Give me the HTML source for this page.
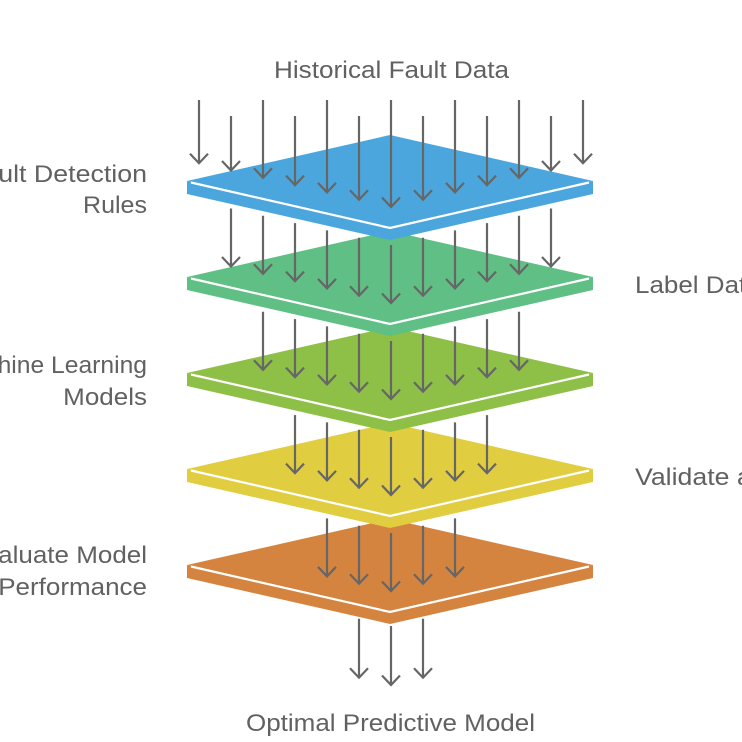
<!DOCTYPE html>
<html>
<head>
<meta charset="utf-8">
<style>
html,body{margin:0;padding:0;background:#fff;}
body{width:742px;height:742px;overflow:hidden;}
svg{display:block;}
text{font-family:"Liberation Sans",Arial,sans-serif;font-size:24px;fill:#616161;}
.ar{fill:none;stroke:#666666;stroke-width:2.2;stroke-linejoin:miter;}
.wl{fill:none;stroke:#fff;stroke-width:2.2;}
</style>
</head>
<body>
<svg width="742" height="742" viewBox="0 0 742 742" xmlns="http://www.w3.org/2000/svg">
<rect width="742" height="742" fill="#fff"/>

<!-- Orange slab -->
<polygon points="187,565 390,611 593,565 593,578 390,624 187,578" fill="#D4843F"/>
<polygon points="187,565 390,519 593,565 390,611" fill="#D4843F"/>
<polyline class="wl" points="191,566.5 390,612 589,566.5"/>

<!-- arrows yellow -> orange -->
<path class="ar" d="M327 518.4V576.4M318 566.9L327 576.4L336 566.9
M359 525.7V583.7M350 574.2L359 583.7L368 574.2
M391 533V591M382 581.5L391 591L400 581.5
M423 525.7V583.7M414 574.2L423 583.7L432 574.2
M455 518.4V576.4M446 566.9L455 576.4L464 566.9"/>

<!-- Yellow slab -->
<polygon points="187,469 390,515 593,469 593,482 390,528 187,482" fill="#E1CD40"/>
<polygon points="187,469 390,423 593,469 390,515" fill="#E1CD40"/>
<polyline class="wl" points="191,470.5 390,516 589,470.5"/>

<!-- arrows lime -> yellow -->
<path class="ar" d="M295 415.1V473.1M286 463.6L295 473.1L304 463.6
M327 422.4V480.4M318 470.9L327 480.4L336 470.9
M359 429.7V487.7M350 478.2L359 487.7L368 478.2
M391 437V495M382 485.5L391 495L400 485.5
M423 429.7V487.7M414 478.2L423 487.7L432 478.2
M455 422.4V480.4M446 470.9L455 480.4L464 470.9
M487 415.1V473.1M478 463.6L487 473.1L496 463.6"/>

<!-- Lime slab -->
<polygon points="187,373 390,419 593,373 593,386 390,432 187,386" fill="#8EBF47"/>
<polygon points="187,373 390,327 593,373 390,419" fill="#8EBF47"/>
<polyline class="wl" points="191,374.5 390,420 589,374.5"/>

<!-- arrows green -> lime -->
<path class="ar" d="M263 311.8V369.8M254 360.3L263 369.8L272 360.3
M295 319.1V377.1M286 367.6L295 377.1L304 367.6
M327 326.4V384.4M318 374.9L327 384.4L336 374.9
M359 333.7V391.7M350 382.2L359 391.7L368 382.2
M391 341V399M382 389.5L391 399L400 389.5
M423 333.7V391.7M414 382.2L423 391.7L432 382.2
M455 326.4V384.4M446 374.9L455 384.4L464 374.9
M487 319.1V377.1M478 367.6L487 377.1L496 367.6
M519 311.8V369.8M510 360.3L519 369.8L528 360.3"/>

<!-- Green slab -->
<polygon points="187,277 390,323 593,277 593,290 390,336 187,290" fill="#5FBF85"/>
<polygon points="187,277 390,231 593,277 390,323" fill="#5FBF85"/>
<polyline class="wl" points="191,278.5 390,324 589,278.5"/>

<!-- arrows blue -> green -->
<path class="ar" d="M231 208.5V266.5M222 257L231 266.5L240 257
M263 215.8V273.8M254 264.3L263 273.8L272 264.3
M295 223.1V281.1M286 271.6L295 281.1L304 271.6
M327 230.4V288.4M318 278.9L327 288.4L336 278.9
M359 237.7V295.7M350 286.2L359 295.7L368 286.2
M391 245V303M382 293.5L391 303L400 293.5
M423 237.7V295.7M414 286.2L423 295.7L432 286.2
M455 230.4V288.4M446 278.9L455 288.4L464 278.9
M487 223.1V281.1M478 271.6L487 281.1L496 271.6
M519 215.8V273.8M510 264.3L519 273.8L528 264.3
M551 208.5V266.5M542 257L551 266.5L560 257"/>

<!-- Blue slab -->
<polygon points="187,181 390,227 593,181 593,194 390,240 187,194" fill="#4BA6DD"/>
<polygon points="187,181 390,135 593,181 390,227" fill="#4BA6DD"/>
<polyline class="wl" points="191,182.5 390,228 589,182.5"/>

<!-- top arrows -->
<path class="ar" d="M199 100V163.2M190 153.7L199 163.2L208 153.7
M231 116V170.5M222 161L231 170.5L240 161
M263 100V177.8M254 168.3L263 177.8L272 168.3
M295 116V185.1M286 175.6L295 185.1L304 175.6
M327 100V192.4M318 182.9L327 192.4L336 182.9
M359 116V199.7M350 190.2L359 199.7L368 190.2
M391 100V207M382 197.5L391 207L400 197.5
M423 116V199.7M414 190.2L423 199.7L432 190.2
M455 100V192.4M446 182.9L455 192.4L464 182.9
M487 116V185.1M478 175.6L487 185.1L496 175.6
M519 100V177.8M510 168.3L519 177.8L528 168.3
M551 116V170.5M542 161L551 170.5L560 161
M583 100V163.2M574 153.7L583 163.2L592 153.7"/>

<!-- bottom arrows -->
<path class="ar" d="M359 618.7V677.7M350 668.2L359 677.7L368 668.2
M391 626V685M382 675.5L391 685L400 675.5
M423 618.7V677.7M414 668.2L423 677.7L432 668.2"/>

<!-- Labels -->
<text x="391.5" y="78" text-anchor="middle" textLength="235" lengthAdjust="spacingAndGlyphs">Historical Fault Data</text>
<text x="390.5" y="731" text-anchor="middle" textLength="289" lengthAdjust="spacingAndGlyphs">Optimal Predictive Model</text>

<text x="147" y="182" text-anchor="end" textLength="180" lengthAdjust="spacingAndGlyphs">Fault Detection</text>
<text x="147" y="213" text-anchor="end" textLength="64" lengthAdjust="spacingAndGlyphs">Rules</text>

<text x="147" y="373" text-anchor="end" textLength="196" lengthAdjust="spacingAndGlyphs">Machine Learning</text>
<text x="147" y="405" text-anchor="end" textLength="83.8" lengthAdjust="spacingAndGlyphs">Models</text>

<text x="147" y="563" text-anchor="end" textLength="179.2" lengthAdjust="spacingAndGlyphs">Evaluate Model</text>
<text x="147" y="595" text-anchor="end" textLength="148.8" lengthAdjust="spacingAndGlyphs">Performance</text>

<text x="635" y="293" textLength="125.7" lengthAdjust="spacingAndGlyphs">Label Data</text>
<text x="635" y="485" textLength="202.3" lengthAdjust="spacingAndGlyphs">Validate and Test</text>
</svg>
</body>
</html>
